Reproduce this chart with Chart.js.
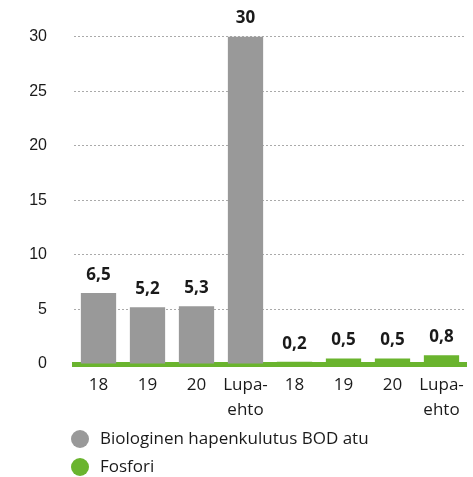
<!DOCTYPE html>
<html>
<head>
<meta charset="utf-8">
<script src="https://cdn.jsdelivr.net/npm/chart.js@4/dist/chart.umd.min.js"></script>
<style>
  body { margin: 0; background: #fff; }
  #wrap { width: 473px; height: 477px; }
</style>
</head>
<body>
<div id="wrap"><canvas id="bodChart" width="473" height="477"></canvas></div>
<script>
// chart data
const categories = ["18", "19", "20", ["Lupa-", "ehto"], "18", "19", "20", ["Lupa-", "ehto"]];
const bodValues = [6.5, 5.2, 5.3, 30];
const fosforiValues = [0.2, 0.5, 0.5, 0.8];
const yTicks = [0, 5, 10, 15, 20, 25, 30];
const seriesNames = ["Biologinen hapenkulutus BOD atu", "Fosfori"];

const GREY = "#999999";
const GREEN = "#6ab42e";
const TEXT = "#1a1a1a";
const SANS = "'Open Sans', 'Noto Sans', sans-serif";

const empty = [null, null, null, null];

// value labels above the bars, finnish decimal comma
const barLabels = {
  id: "barLabels",
  afterDatasetsDraw(chart) {
    const ctx = chart.ctx;
    ctx.save();
    ctx.font = "bold 17px " + SANS;
    ctx.fillStyle = TEXT;
    ctx.textAlign = "center";
    ctx.textBaseline = "middle";
    chart.data.datasets.forEach((ds, i) => {
      chart.getDatasetMeta(i).data.forEach((bar, j) => {
        const v = ds.data[j];
        if (v === null) return;
        ctx.fillText(String(v).replace(".", ","), bar.x, bar.y - 18);
      });
    });
    ctx.restore();
  }
};

// legend drawn by hand so each entry gets its own row
const stackedLegend = {
  id: "stackedLegend",
  afterDraw(chart) {
    const ctx = chart.ctx;
    ctx.save();
    ctx.font = "17px " + SANS;
    ctx.textBaseline = "middle";
    chart.data.datasets.forEach((ds, i) => {
      const y = 439 + i * 28;
      ctx.fillStyle = ds.backgroundColor;
      ctx.beginPath();
      ctx.arc(80, y, 9, 0, Math.PI * 2);
      ctx.fill();
      ctx.fillStyle = TEXT;
      ctx.fillText(ds.label, 100, y);
    });
    ctx.restore();
  }
};

new Chart(document.getElementById("bodChart"), {
  type: "bar",
  data: {
    labels: categories,
    datasets: [
      {
        label: seriesNames[0],
        data: bodValues.concat(empty),
        backgroundColor: GREY,
        grouped: false,
        barPercentage: 0.72,
        categoryPercentage: 1
      },
      {
        label: seriesNames[1],
        data: empty.concat(fosforiValues),
        backgroundColor: GREEN,
        grouped: false,
        barPercentage: 0.72,
        categoryPercentage: 1
      }
    ]
  },
  options: {
    responsive: false,
    animation: false,
    layout: { padding: { top: 33, right: 7, bottom: 53, left: 0 } },
    plugins: {
      legend: { display: false },
      tooltip: { enabled: false }
    },
    scales: {
      x: {
        z: 1,
        grid: { display: false, drawTicks: false },
        border: { color: GREEN, width: 5 },
        ticks: {
          color: TEXT,
          padding: 8,
          maxRotation: 0,
          autoSkip: false,
          font: { family: SANS, size: 17, lineHeight: 1.5 }
        },
        afterFit(scale) { scale.height = 60; }
      },
      y: {
        min: 0,
        max: 30,
        afterBuildTicks(scale) { scale.ticks = yTicks.map(v => ({ value: v })); },
        border: { display: false, dash: [2, 2] },
        grid: {
          drawTicks: false,
          color: ctx => (ctx.tick && ctx.tick.value === 0 ? "rgba(0,0,0,0)" : "#aaaaaa"),
          lineWidth: 1
        },
        ticks: {
          color: TEXT,
          padding: 27,
          font: { family: "'Liberation Sans', Arial, sans-serif", size: 16 }
        },
        afterFit(scale) { scale.width = 74; }
      }
    }
  },
  plugins: [barLabels, stackedLegend]
});
</script>
</body>
</html>
